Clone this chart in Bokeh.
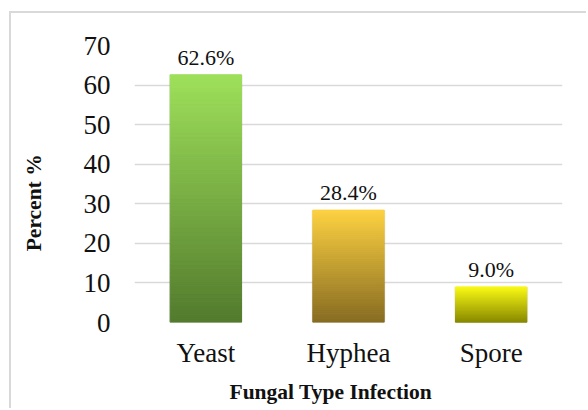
from bokeh.plotting import figure
from bokeh.models import ColumnDataSource, LabelSet, FixedTicker, Range1d, FactorRange, Title
from bokeh.embed import file_html
from bokeh.resources import INLINE

# ---- data ----
categories = ["Yeast", "Hyphea", "Spore"]
percents = [62.6, 28.4, 9.0]
value_labels = ["62.6%", "28.4%", "9.0%"]
y_ticks = [0, 10, 20, 30, 40, 50, 60, 70]

# gradient colours (top, bottom) per bar
top_colors = [(0x9e, 0xe0, 0x5a), (0xfd, 0xd1, 0x41), (0xf8, 0xf8, 0x16)]
bot_colors = [(0x52, 0x7a, 0x2d), (0x86, 0x6b, 0x22), (0x86, 0x86, 0x00)]

FONT = "Liberation Serif"
N = 60

p = figure(x_range=FactorRange(*categories, range_padding=0), y_range=Range1d(0, 70),
           width=577, height=397, output_backend="svg", toolbar_location=None,
           min_border_left=123, min_border_right=26, min_border_top=32, min_border_bottom=88)
# chart-area border (left and top edges visible in the reference)
p.styles = {"border-left": "2px solid #d9d9d9", "border-top": "2px solid #d9d9d9",
            "margin-left": "9px", "margin-top": "11px"}
p.outline_line_color = None
p.background_fill_color = "white"
p.border_fill_color = "white"

# subtle shadow
p.vbar(x=categories, top=percents, bottom=0, width=0.515, fill_color="#000000",
       fill_alpha=0.10, line_color=None)

# gradient bars made of bands derived from the data values
xs, bots, tops, cols = [], [], [], []
for c, v, tc, bc in zip(categories, percents, top_colors, bot_colors):
    for i in range(N):
        t = (i + 0.5) / N
        col = tuple(int(round(bc[k] + (tc[k] - bc[k]) * t)) for k in range(3))
        xs.append(c)
        bots.append(v * i / N)
        tops.append(v * (i + 1) / N)
        cols.append("#%02x%02x%02x" % col)
band_src = ColumnDataSource(dict(x=xs, bottom=bots, top=tops, color=cols))
p.vbar(x="x", bottom="bottom", top="top", width=0.5, fill_color="color",
       line_color="color", line_width=1, source=band_src)

# value labels
lab_src = ColumnDataSource(dict(x=categories, y=percents, text=value_labels))
p.add_layout(LabelSet(x="x", y="y", text="text", source=lab_src, y_offset=5,
                      text_align="center", text_baseline="bottom",
                      text_font=FONT, text_font_size="22px", text_color="#111111"))

# axes
p.yaxis.ticker = FixedTicker(ticks=y_ticks)
for ax in (p.xaxis[0], p.yaxis[0]):
    ax.axis_line_color = None
    ax.major_tick_line_color = None
    ax.minor_tick_line_color = None
    ax.major_label_text_font = FONT
    ax.major_label_text_font_size = "27px"
    ax.major_label_text_color = "#111111"
p.yaxis.major_label_standoff = 18
p.xaxis.major_label_standoff = 9

# y title is centred on the whole chart area (lower than the plot centre):
# trailing no-break spaces shift the visible text down
p.yaxis.axis_label = "Percent %" + "\u00a0" * 7
p.yaxis.axis_label_text_font = FONT
p.yaxis.axis_label_text_font_style = "bold"
p.yaxis.axis_label_text_font_size = "21.5px"
p.yaxis.axis_label_text_color = "#111111"
p.yaxis.axis_label_standoff = 35

# x-axis title (centred on the whole chart area, a little left of the plot centre)
p.add_layout(Title(text="Fungal Type Infection", align="left", offset=95,
                   text_font=FONT, text_font_style="bold", text_font_size="21.5px",
                   text_color="#111111", standoff=14), "below")

p.xgrid.grid_line_color = None
p.ygrid.grid_line_color = "#d9d9d9"
p.ygrid.grid_line_width = 1.5

open("out.html", "w").write(file_html(p, INLINE))
